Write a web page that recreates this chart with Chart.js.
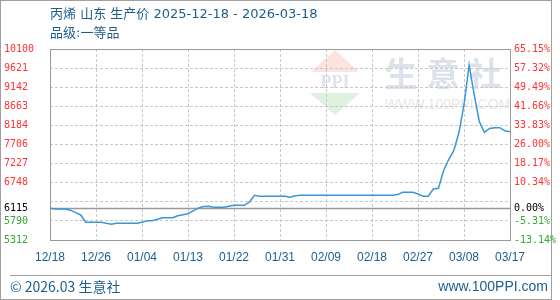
<!DOCTYPE html>
<html><head><meta charset="utf-8">
<script src="https://cdn.jsdelivr.net/npm/chart.js@4.4.1/dist/chart.umd.min.js"></script>
<style>html,body{margin:0;padding:0;background:#fff}#wrap{width:560px;height:300px;position:relative}canvas{display:block}</style>
</head><body><div id="wrap"><canvas id="c" width="560" height="300"></canvas></div>
<script>
const titleText = '丙烯 山东 生产价 2025-12-18 - 2026-03-18';
const subtitleText = '品级:一等品';
const footerLeft = '© 2026.03 生意社';
const footerRight = 'www.100PPI.com';
const xTickLabels = ['12/18','12/26','01/04','01/13','01/22','01/31','02/09','02/18','02/27','03/08','03/17'];
const xTickStep = 9;
const yTickValues = [10100, 9621, 9142, 8663, 8184, 7706, 7227, 6748, 6269, 6115, 5790, 5312];
const yTickLabels = ['10100','9621','9142','8663','8184','7706','7227','6748','','6115','5790','5312'];
const pctTickLabels = ['65.15%','57.32%','49.49%','41.66%','33.83%','26.00%','18.17%','10.34%','','0.00%','-5.31%','-13.14%'];
const baseValue = 6115;
const prices = [
  6110, 6090, 6090, 6090, 6060, 6000, 5940, 5756, 5756, 5756,
  5756, 5730, 5705, 5730, 5730, 5730, 5730, 5730, 5756, 5796,
  5796, 5831, 5871, 5871, 5871, 5921, 5946, 5971, 6040, 6110,
  6150, 6157, 6132, 6132, 6132, 6157, 6182, 6182, 6182, 6260,
  6433, 6408, 6408, 6408, 6408, 6408, 6408, 6383, 6420, 6433,
  6433, 6433, 6433, 6433, 6433, 6433, 6433, 6433, 6433, 6433,
  6433, 6433, 6433, 6433, 6433, 6433, 6433, 6433, 6450, 6508,
  6508, 6508, 6465, 6408, 6408, 6590, 6608, 7050, 7330, 7550,
  8000, 8696, 9699, 8950, 8278, 8012, 8110, 8128, 8128, 8050,
  8027
];

const RED = '#ff3333', GREEN = '#33a833', BLACK = '#000000';
const BLUE_TEXT = '#1d5e8e';
function tickColor(v){ return v > baseValue ? RED : (v < baseValue ? GREEN : BLACK); }

const decor = {
  id: 'decor',
  beforeDraw(chart){
    const ctx = chart.ctx;
    ctx.save();
    ctx.fillStyle = '#fff';
    ctx.fillRect(0,0,560,300);
    // outer frame
    ctx.strokeStyle = '#a0a0a0';
    ctx.lineWidth = 1;
    ctx.strokeRect(0.5,0.5,551,299);
    // separator
    ctx.beginPath(); ctx.moveTo(10,275.5); ctx.lineTo(551,275.5); ctx.stroke();
    // watermark logo
    ctx.fillStyle = '#fbe3df';
    ctx.beginPath(); ctx.moveTo(335,50); ctx.lineTo(359,72); ctx.lineTo(311,72); ctx.closePath(); ctx.fill();
    ctx.fillStyle = '#dff1df';
    ctx.beginPath(); ctx.moveTo(310,93); ctx.lineTo(360,93); ctx.lineTo(335,115); ctx.closePath(); ctx.fill();
    ctx.fillStyle = '#dde3ef';
    ctx.font = 'bold 18px "Liberation Serif"';
    ctx.textAlign = 'center'; ctx.textBaseline = 'middle';
    ctx.fillText('PPI', 335, 83);
    ctx.font = 'bold 33px "Noto Sans CJK SC"';
    ctx.fillStyle = '#dde1ec';
    ['生','意','社'].forEach((ch,i)=>ctx.fillText(ch, 401 + i*42, 73));
    ctx.font = '14px "Liberation Sans"';
    ctx.fillStyle = '#e6e6e6';
    ctx.textAlign = 'left';
    ctx.fillText('WWW.100PPI.COM', 385, 105);
    // titles
    ctx.fillStyle = BLUE_TEXT;
    ctx.textAlign = 'left'; ctx.textBaseline = 'middle';
    ctx.font = '13px "DejaVu Sans", "Noto Sans CJK SC"';
    ctx.fillText(titleText, 50, 15);
    ctx.fillText(subtitleText, 50, 34);
    // footer
    ctx.font = '14px "Noto Sans CJK SC"';
    ctx.fillText(footerLeft, 10, 287);
    ctx.textAlign = 'right';
    ctx.font = '14px "Liberation Sans"';
    ctx.fillText(footerRight, 548, 287);
    ctx.restore();
  },
  beforeDatasetsDraw(chart){
    const ctx = chart.ctx, a = chart.chartArea, y = chart.scales.y;
    ctx.save();
    const py = Math.round(y.getPixelForValue(baseValue)) + 0.5;
    ctx.strokeStyle = '#999';
    ctx.lineWidth = 1.5;
    ctx.beginPath(); ctx.moveTo(a.left, py); ctx.lineTo(a.right, py); ctx.stroke();
    ctx.lineWidth = 1;
    ctx.strokeStyle = '#9a9a9a';
    ctx.strokeRect(a.left + 0.5, a.top + 0.5, a.right - a.left, a.bottom - a.top);
    ctx.restore();
  }
};

const tickFont = { family: '"DejaVu Sans Mono"', size: 10 };

new Chart(document.getElementById('c'), {
  type: 'line',
  data: {
    datasets: [{
      data: prices.map((v,i)=>({x:i, y:v})),
      borderColor: '#3b96d6',
      borderWidth: 1.5,
      pointRadius: 0,
      tension: 0,
      fill: false
    }]
  },
  options: {
    responsive: false,
    animation: false,
    layout: { padding: { top: 49, left: 4, right: 0, bottom: 0 } },
    plugins: { legend: { display: false }, tooltip: { enabled: false } },
    scales: {
      x: {
        type: 'linear', min: 0, max: prices.length - 1,
        afterBuildTicks(s){ s.ticks = xTickLabels.map((_,i)=>({value: i*xTickStep})); },
        afterFit(s){ s.height = 60; },
        ticks: {
          autoSkip: false, maxRotation: 0, padding: 10,
          color: BLUE_TEXT,
          font: { family: '"Liberation Sans"', size: 12 },
          callback(v){ const k = Math.round(v / xTickStep); return xTickLabels[k] ?? ''; }
        },
        grid: { color: '#c8c8c8', drawTicks: false, lineWidth: 1 },
        border: { display: false, dash: [3,2] }
      },
      y: {
        position: 'left', min: 5312, max: 10100,
        afterBuildTicks(s){ s.ticks = yTickValues.map(v=>({value:v})); },
        afterFit(s){ s.width = 46; },
        ticks: {
          crossAlign: 'far', padding: 0,
          color(c){ return tickColor(c.tick.value); },
          font: tickFont,
          callback(v){ const k = yTickValues.indexOf(v); return k >= 0 ? yTickLabels[k] : ''; }
        },
        grid: {
          drawTicks: false,
          color(c){ return c.tick && c.tick.value === baseValue ? 'rgba(0,0,0,0)' : '#c8c8c8'; }
        },
        border: { display: false, dash: [3,2] }
      },
      y2: {
        position: 'right', min: 5312, max: 10100,
        afterBuildTicks(s){ s.ticks = yTickValues.map(v=>({value:v})); },
        afterFit(s){ s.width = 50; },
        ticks: {
          padding: 4,
          color(c){ return tickColor(c.tick.value); },
          font: tickFont,
          callback(v){ const k = yTickValues.indexOf(v); return k >= 0 ? pctTickLabels[k] : ''; }
        },
        grid: { display: false, drawTicks: false },
        border: { display: false }
      }
    }
  },
  plugins: [decor]
});
</script></body></html>
